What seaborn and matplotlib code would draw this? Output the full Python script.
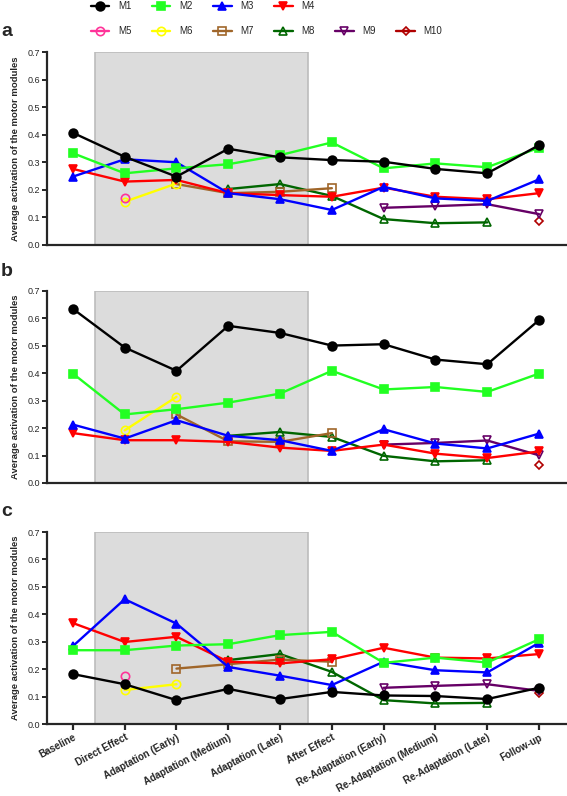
import numpy as np
import pandas as pd
import matplotlib
matplotlib.use("Agg")
import matplotlib.pyplot as plt
import seaborn as sns
from matplotlib.lines import Line2D

nan = np.nan

PHASES = ["Baseline", "Direct Effect", "Adaptation (Early)", "Adaptation (Medium)",
          "Adaptation (Late)", "After Effect", "Re-Adaptation (Early)",
          "Re-Adaptation (Medium)", "Re-Adaptation (Late)", "Follow-up"]
MODULES = ["M1", "M2", "M3", "M4", "M5", "M6", "M7", "M8", "M9", "M10"]

# panel a
a_m1 = [0.407, 0.320, 0.248, 0.349, 0.318, 0.308, 0.302, 0.276, 0.260, 0.362]
a_m2 = [0.333, 0.260, 0.278, 0.293, 0.326, 0.372, 0.278, 0.296, 0.282, 0.353]
a_m3 = [0.248, 0.311, 0.300, 0.188, 0.166, 0.127, 0.211, 0.169, 0.160, 0.238]
a_m4 = [0.276, 0.230, 0.236, 0.188, 0.181, 0.175, 0.208, 0.175, 0.166, 0.188]
a_m5 = [nan, 0.169, nan, nan, nan, nan, nan, nan, nan, nan]
a_m6 = [nan, 0.157, 0.223, nan, nan, nan, nan, nan, nan, nan]
a_m7 = [nan, nan, 0.221, 0.188, 0.193, 0.206, nan, nan, nan, nan]
a_m8 = [nan, nan, nan, 0.203, 0.221, 0.178, 0.094, 0.079, 0.082, nan]
a_m9 = [nan, nan, nan, nan, nan, nan, 0.135, 0.141, 0.148, 0.112]
a_m10 = [nan, nan, nan, nan, nan, nan, nan, nan, nan, 0.087]

# panel b
b_m1 = [0.635, 0.494, 0.409, 0.573, 0.547, 0.501, 0.506, 0.450, 0.433, 0.594]
b_m2 = [0.399, 0.250, 0.269, 0.293, 0.326, 0.409, 0.341, 0.350, 0.332, 0.399]
b_m3 = [0.213, 0.162, 0.229, 0.172, 0.156, 0.117, 0.196, 0.144, 0.126, 0.180]
b_m4 = [0.182, 0.156, 0.156, 0.150, 0.129, 0.117, 0.140, 0.107, 0.091, 0.115]
b_m5 = [nan, nan, nan, nan, nan, nan, nan, nan, nan, nan]
b_m6 = [nan, 0.192, 0.314, nan, nan, nan, nan, nan, nan, nan]
b_m7 = [nan, nan, 0.250, 0.152, 0.150, 0.182, nan, nan, nan, nan]
b_m8 = [nan, nan, nan, 0.172, 0.186, 0.168, 0.099, 0.079, 0.083, nan]
b_m9 = [nan, nan, nan, nan, nan, nan, 0.140, 0.146, 0.155, 0.101]
b_m10 = [nan, nan, nan, nan, nan, nan, nan, nan, nan, 0.065]

# panel c
c_m1 = [0.182, 0.145, 0.087, 0.128, 0.091, 0.117, 0.104, 0.102, 0.091, 0.132]
c_m2 = [0.269, 0.269, 0.286, 0.291, 0.324, 0.336, 0.223, 0.242, 0.224, 0.309]
c_m3 = [0.284, 0.455, 0.366, 0.208, 0.176, 0.142, 0.227, 0.196, 0.188, 0.296]
c_m4 = [0.368, 0.299, 0.318, 0.227, 0.221, 0.236, 0.278, 0.242, 0.239, 0.255]
c_m5 = [nan, 0.176, nan, nan, nan, nan, nan, nan, nan, nan]
c_m6 = [nan, 0.124, 0.145, nan, nan, nan, nan, nan, nan, nan]
c_m7 = [nan, nan, 0.202, 0.218, 0.235, 0.227, nan, nan, nan, nan]
c_m8 = [nan, nan, nan, 0.233, 0.255, 0.190, 0.087, 0.075, 0.077, nan]
c_m9 = [nan, nan, nan, nan, nan, nan, 0.132, 0.139, 0.145, 0.121]
c_m10 = [nan, nan, nan, nan, nan, nan, nan, nan, nan, 0.114]

PANELS = {
    "a": [a_m1, a_m2, a_m3, a_m4, a_m5, a_m6, a_m7, a_m8, a_m9, a_m10],
    "b": [b_m1, b_m2, b_m3, b_m4, b_m5, b_m6, b_m7, b_m8, b_m9, b_m10],
    "c": [c_m1, c_m2, c_m3, c_m4, c_m5, c_m6, c_m7, c_m8, c_m9, c_m10],
}

COLORS = ["#000000", "#22ff22", "#0000ff", "#ff0000", "#ff3399",
          "#ffff00", "#a0662a", "#006600", "#660066", "#b00000"]
MARKERS = ["o", "s", "^", "v", "o", "o", "s", "^", "v", "D"]
FILLED = [True, True, True, True, False, False, False, False, False, False]
MSIZE = [6.3, 6.3, 6.3, 6.3, 6, 6, 6, 6, 6, 4.5]

sns.set_style("ticks")
plt.rcParams["font.family"] = ["Liberation Sans", "DejaVu Sans"]

W, H = 567, 796
fig = plt.figure(figsize=(W / 100, H / 100), dpi=100)

# axes boxes in pixels: (top, bottom)
boxes = {"a": (52, 245), "b": (291, 483), "c": (532, 724)}
left_px = 47

for panel, (top, bot) in boxes.items():
    ax = fig.add_axes([left_px / W, 1 - bot / H, 1 - left_px / W, (bot - top) / H])
    # shaded adaptation period
    ax.axvspan(0.43, 4.54, ymin=0, ymax=1, facecolor="#dcdcdc",
               edgecolor="#bcbcbc", linewidth=1.2, zorder=0)

    series = PANELS[panel]
    for i in reversed(range(len(MODULES))):
        df = pd.DataFrame({"pos": np.arange(len(PHASES)), "value": series[i]}).dropna()
        if df.empty:
            continue
        c = COLORS[i]
        sns.lineplot(data=df, x="pos", y="value", ax=ax, color=c, linewidth=1.7,
                     marker=MARKERS[i], markersize=MSIZE[i],
                     markerfacecolor=c if FILLED[i] else "none",
                     markeredgecolor=c, markeredgewidth=1.2, legend=False, zorder=3)

    ax.set_xlim(-0.5, 9.54)
    ax.set_ylim(0, 0.7)
    ax.set_yticks(np.arange(0, 0.71, 0.1))
    ax.set_yticklabels([f"{v:.1f}" for v in np.arange(0, 0.71, 0.1)], fontsize=6.5)
    ax.set_ylabel("Average activation of the motor modules", fontsize=6.8,
                  fontweight="bold", labelpad=5)
    ax.set_xlabel("")
    for side in ["top", "right"]:
        ax.spines[side].set_visible(False)
    for side in ["left", "bottom"]:
        ax.spines[side].set_linewidth(1.6)
    ax.tick_params(axis="y", length=3.5, width=1.4, pad=1.5)
    if panel == "c":
        ax.set_xticks(np.arange(len(PHASES)))
        ax.set_xticklabels(PHASES, rotation=28, ha="right", rotation_mode="anchor",
                           fontsize=7, fontweight="bold")
        ax.tick_params(axis="x", length=4, width=1.6, pad=2)
    else:
        ax.set_xticks([])
    fig.text(1 / W, 1 - (top - 20) / H, panel, fontsize=14, fontweight="bold",
             va="center", ha="left")


# legend laid out as two rows (column-major fill)
def handle(i):
    c = COLORS[i]
    return Line2D([0], [0], color=c, lw=1.7, marker=MARKERS[i], markersize=MSIZE[i],
                  markerfacecolor=c if FILLED[i] else "none", markeredgecolor=c,
                  markeredgewidth=1.2)


blank = Line2D([0], [0], alpha=0)
order = [0, 4, 1, 5, 2, 6, 3, 7, None, 8, None, 9]
handles = [handle(i) if i is not None else blank for i in order]
labels = [MODULES[i] if i is not None else "" for i in order]
fig.legend(handles, labels, loc="upper left", bbox_to_anchor=(91 / W, 1 - 1 / H),
           ncol=6, frameon=False, fontsize=7, handlelength=1.9, handletextpad=0.9,
           columnspacing=2.1, labelspacing=1.55, borderpad=0, borderaxespad=0)

fig.savefig("out.png", dpi=100)
